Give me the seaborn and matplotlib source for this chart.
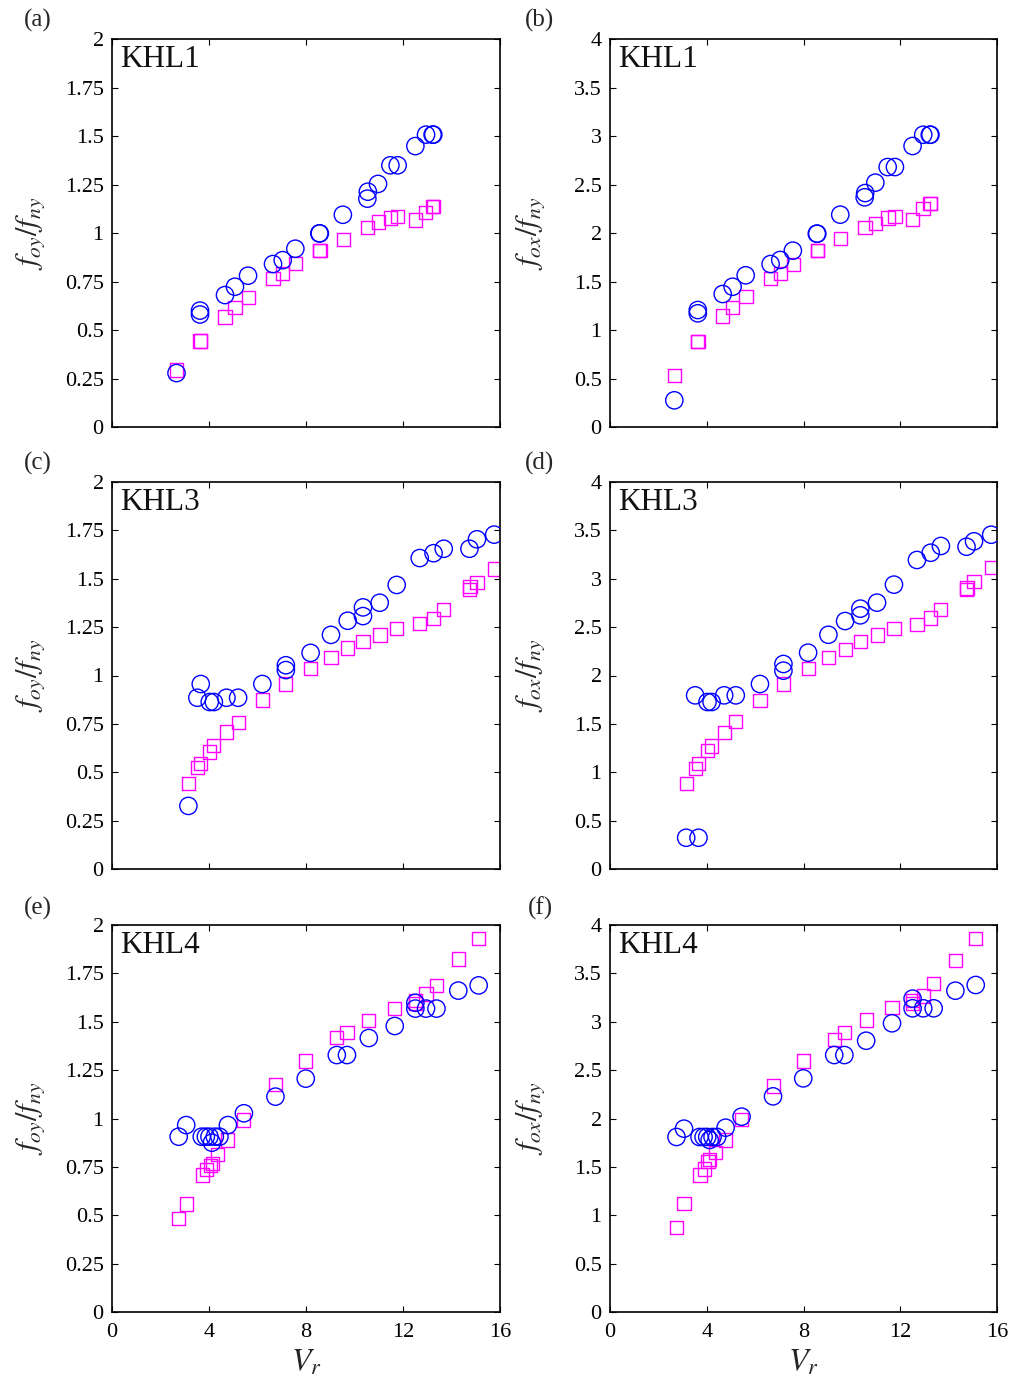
import numpy as np
import pandas as pd
import matplotlib
matplotlib.use("Agg")
import matplotlib.pyplot as plt
import seaborn as sns
from matplotlib.ticker import FuncFormatter

# ---------------- data ----------------
# KHL1
khl1_circ_vr = [2.66, 3.63, 3.63, 4.66, 5.07, 5.61, 6.64, 7.04, 7.56, 8.55, 8.57, 9.52,
                10.53, 10.55, 10.97, 11.48, 11.78, 12.51, 12.95, 13.22, 13.25]
khl1_circ_fy = [0.278, 0.58, 0.60, 0.68, 0.723, 0.78, 0.84, 0.86, 0.919, 0.998, 0.998, 1.094,
                1.177, 1.213, 1.253, 1.349, 1.349, 1.448, 1.507, 1.507, 1.507]
khl1_circ_fx = [0.275, 1.172, 1.206, 1.371, 1.446, 1.564, 1.680, 1.722, 1.818, 1.993, 1.993, 2.189,
                2.368, 2.412, 2.519, 2.680, 2.680, 2.897, 3.013, 3.013, 3.013]
khl1_sq_vr = [2.67, 3.63, 3.64, 4.66, 5.07, 5.62, 6.64, 7.04, 7.58, 8.57, 8.58, 9.54,
              10.54, 10.98, 11.49, 11.78, 12.52, 12.94, 13.23, 13.25]
khl1_sq_fy = [0.294, 0.443, 0.443, 0.567, 0.617, 0.667, 0.765, 0.792, 0.842, 0.909, 0.909, 0.967,
              1.027, 1.057, 1.077, 1.086, 1.067, 1.107, 1.136, 1.136]
khl1_sq_fx = [0.529, 0.879, 0.879, 1.144, 1.234, 1.343, 1.529, 1.585, 1.673, 1.818, 1.818, 1.945,
              2.055, 2.100, 2.155, 2.172, 2.141, 2.251, 2.302, 2.302]

# KHL3
khl3_circ_vr = [3.15, 3.52, 3.66, 4.03, 4.20, 4.72, 5.20, 6.20, 7.17, 7.17, 8.19, 9.03,
                9.72, 10.35, 10.35, 11.04, 11.74, 12.69, 13.26, 13.68, 14.74, 15.05, 15.76]
khl3_circ_fy = [0.326, 0.885, 0.956, 0.863, 0.863, 0.885, 0.885, 0.956, 1.053, 1.028, 1.117, 1.210,
                1.283, 1.307, 1.352, 1.376, 1.468, 1.607, 1.632, 1.655, 1.655, 1.704, 1.728]
khl3_circ_fx = [0.323, 1.795, 0.323, 1.726, 1.726, 1.795, 1.795, 1.912, 2.119, 2.050, 2.236, 2.421,
                2.563, 2.622, 2.691, 2.753, 2.939, 3.194, 3.269, 3.339, 3.331, 3.387, 3.455]
khl3_sq_vr = [3.15, 3.52, 3.65, 4.03, 4.20, 4.72, 5.20, 6.20, 7.17, 8.19, 9.03, 9.72,
              10.35, 11.05, 11.74, 12.69, 13.26, 13.68, 14.73, 14.76, 15.05, 15.76]
khl3_sq_fy = [0.441, 0.523, 0.546, 0.605, 0.639, 0.708, 0.756, 0.873, 0.956, 1.035, 1.093, 1.142,
              1.177, 1.209, 1.245, 1.270, 1.294, 1.342, 1.445, 1.462, 1.480, 1.550]
khl3_sq_fx = [0.886, 1.037, 1.093, 1.223, 1.271, 1.409, 1.527, 1.739, 1.912, 2.070, 2.188, 2.271,
              2.354, 2.419, 2.484, 2.525, 2.594, 2.684, 2.890, 2.905, 2.974, 3.114]

# KHL4
khl4_circ_vr = [2.75, 3.06, 3.70, 3.87, 4.02, 4.12, 4.24, 4.43, 4.78, 5.44, 6.74, 7.99,
                9.27, 9.69, 10.59, 11.66, 12.51, 12.51, 12.95, 13.38, 14.28, 15.12]
khl4_circ_fy = [0.906, 0.966, 0.906, 0.906, 0.906, 0.875, 0.906, 0.906, 0.966, 1.027, 1.113, 1.206,
                1.328, 1.328, 1.416, 1.478, 1.598, 1.568, 1.568, 1.568, 1.661, 1.688]
khl4_circ_fx = [1.809, 1.895, 1.809, 1.809, 1.809, 1.778, 1.809, 1.809, 1.905, 2.019, 2.229, 2.415,
                2.656, 2.656, 2.804, 2.984, 3.239, 3.139, 3.139, 3.139, 3.321, 3.380]
khl4_sq_vr = [2.75, 3.06, 3.72, 3.90, 4.05, 4.13, 4.36, 4.77, 5.43, 6.75, 7.99, 9.27,
              9.69, 10.59, 11.66, 12.51, 12.52, 12.95, 13.38, 14.28, 15.12]
khl4_sq_fy = [0.482, 0.558, 0.708, 0.737, 0.758, 0.768, 0.814, 0.889, 0.992, 1.177, 1.297, 1.418,
              1.445, 1.507, 1.569, 1.595, 1.610, 1.643, 1.688, 1.824, 1.931]
khl4_sq_fx = [0.875, 1.119, 1.416, 1.478, 1.553, 1.580, 1.647, 1.778, 1.992, 2.336, 2.594, 2.819,
              2.891, 3.018, 3.149, 3.191, 3.220, 3.266, 3.397, 3.633, 3.858]

case_names = ["KHL1", "KHL3", "KHL4"]
panel_letters = ["(a)", "(b)", "(c)", "(d)", "(e)", "(f)"]
ylabels = [r"$f_{oy}/f_{ny}$", r"$f_{ox}/f_{ny}$"]
xlabel = r"$V_r$"
x_ticks = [0, 4, 8, 12, 16]
y_ticks_left = [0, 0.25, 0.5, 0.75, 1, 1.25, 1.5, 1.75, 2]
y_ticks_right = [0, 0.5, 1, 1.5, 2, 2.5, 3, 3.5, 4]

circ_color = "#0000ff"
sq_color = "#ff00ff"

# ---------------- style ----------------
sns.set_style("ticks")
plt.rcParams["font.family"] = ["Liberation Serif", "DejaVu Serif"]
plt.rcParams["mathtext.fontset"] = "stix"

fig = plt.figure(figsize=(10.17, 13.94), dpi=100)

W, H = 1017.0, 1394.0
col_left = [112, 610]
col_width = [388, 387]
row_top = [39, 482, 925]
row_bottom = [427, 869, 1312]
ylabel_right_px = [47, 547]

cases = [
    (khl1_circ_vr, khl1_circ_fy, khl1_circ_fx, khl1_sq_vr, khl1_sq_fy, khl1_sq_fx),
    (khl3_circ_vr, khl3_circ_fy, khl3_circ_fx, khl3_sq_vr, khl3_sq_fy, khl3_sq_fx),
    (khl4_circ_vr, khl4_circ_fy, khl4_circ_fx, khl4_sq_vr, khl4_sq_fy, khl4_sq_fx),
]

fmt = FuncFormatter(lambda v, p: f"{v:g}")

for r in range(3):
    cvr, cfy, cfx, svr, sfy, sfx = cases[r]
    for c in range(2):
        left = col_left[c] / W
        bottom = 1 - row_bottom[r] / H
        width = col_width[c] / W
        height = (row_bottom[r] - row_top[r]) / H
        ax = fig.add_axes([left, bottom, width, height])

        circ_df = pd.DataFrame({"Vr": cvr, "f": cfy if c == 0 else cfx})
        sq_df = pd.DataFrame({"Vr": svr, "f": sfy if c == 0 else sfx})

        sns.scatterplot(data=circ_df, x="Vr", y="f", ax=ax, marker="o", s=155,
                        color=circ_color, facecolor="none", edgecolor=circ_color,
                        linewidth=1.0, zorder=3)
        sns.scatterplot(data=sq_df, x="Vr", y="f", ax=ax, marker="s", s=90,
                        color=sq_color, facecolor="none", edgecolor=sq_color,
                        linewidth=1.0, zorder=2)

        ax.set_xlim(0, 16)
        ymax = 2 if c == 0 else 4
        ax.set_ylim(0, ymax)
        ax.set_xticks(x_ticks)
        ax.set_yticks(y_ticks_left if c == 0 else y_ticks_right)
        ax.yaxis.set_major_formatter(fmt)
        ax.xaxis.set_major_formatter(fmt)
        ax.tick_params(direction="in", top=True, right=True, length=4, width=0.8,
                       labelsize=16, colors="black")
        ax.tick_params(axis="y", pad=6)
        ax.tick_params(axis="x", pad=8)
        for sp in ax.spines.values():
            sp.set_visible(True)
            sp.set_linewidth(1.2)
            sp.set_color("black")

        ax.set_ylabel(ylabels[c], fontsize=22)
        ax.yaxis.set_label_coords((ylabel_right_px[c] - col_left[c]) / col_width[c], 0.5)

        if r < 2:
            ax.set_xticklabels([])
            ax.set_xlabel("")
        else:
            ax.set_xlabel(xlabel, fontsize=23)
            ax.xaxis.set_label_coords(0.5, -0.095)

        ax.text(0.022, 0.985, case_names[r], transform=ax.transAxes,
                ha="left", va="top", fontsize=22.5, color="#111111")

        letter = panel_letters[2 * r + c]
        lx = 38 if c == 0 else 540
        ly = [20, 463, 908][r]
        fig.text(lx / W, 1 - ly / H, letter, ha="center", va="center", fontsize=18)

fig.savefig("out.png", dpi=100)
